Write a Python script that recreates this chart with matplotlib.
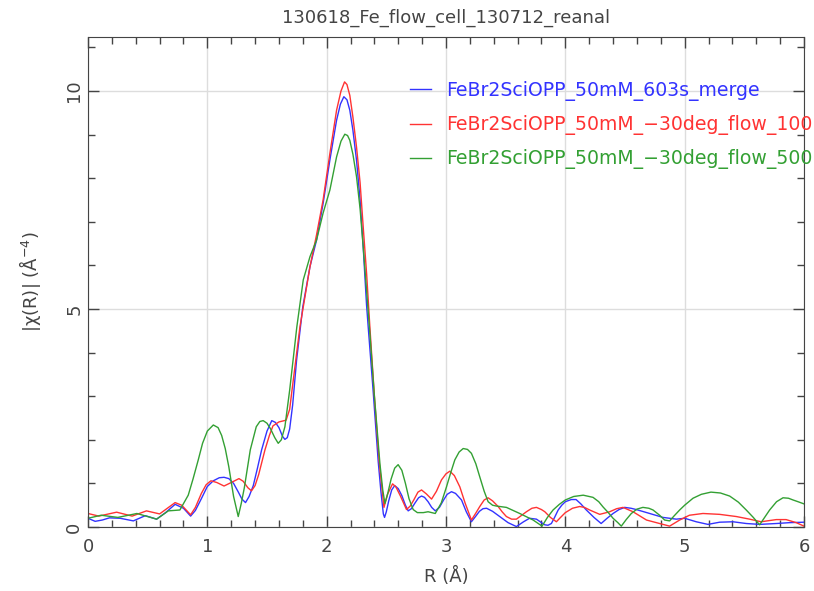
import matplotlib
matplotlib.use("Agg")
import matplotlib.pyplot as plt
from matplotlib.ticker import MultipleLocator

title = "130618_Fe_flow_cell_130712_reanal"
labels = ["FeBr2SciOPP_50mM_603s_merge",
          "FeBr2SciOPP_50mM_\u221230deg_flow_100",
          "FeBr2SciOPP_50mM_\u221230deg_flow_500"]

r_blue = [0.00, 0.06, 0.12, 0.18, 0.27, 0.38, 0.48, 0.575, 0.65, 0.73, 0.80, 0.86,
          0.90, 0.95, 1.00, 1.05, 1.10, 1.14, 1.18, 1.22, 1.26, 1.29, 1.32, 1.35,
          1.385, 1.42, 1.455, 1.50, 1.54, 1.57, 1.60, 1.63, 1.65, 1.67, 1.69, 1.715,
          1.748, 1.80, 1.86, 1.915, 1.97, 2.027, 2.083, 2.115, 2.144, 2.17, 2.194,
          2.22, 2.25, 2.28, 2.306, 2.334, 2.348, 2.39, 2.432, 2.455, 2.475, 2.485,
          2.50, 2.52, 2.545, 2.57, 2.60, 2.63, 2.66, 2.683, 2.71, 2.74, 2.77, 2.795,
          2.82, 2.85, 2.88, 2.91, 2.945, 2.98, 3.01, 3.046, 3.08, 3.13, 3.17, 3.213,
          3.25, 3.28, 3.31, 3.34, 3.39, 3.45, 3.52, 3.59, 3.65, 3.70, 3.758, 3.80,
          3.828, 3.855, 3.883, 3.91, 3.94, 3.97, 4.0, 4.05, 4.09, 4.13, 4.176, 4.24,
          4.30, 4.35, 4.40, 4.45, 4.497, 4.55, 4.595, 4.707, 4.818, 4.93, 5.0,
          5.097, 5.195, 5.293, 5.405, 5.516, 5.628, 5.768, 5.88, 6.0]
v_blue = [0.20, 0.13, 0.16, 0.21, 0.20, 0.14, 0.26, 0.18, 0.33, 0.52, 0.43, 0.25,
          0.38, 0.65, 0.93, 1.06, 1.13, 1.14, 1.11, 1.00, 0.80, 0.64, 0.56, 0.70,
          0.95, 1.35, 1.77, 2.20, 2.44, 2.40, 2.28, 2.08, 2.01, 2.05, 2.25, 2.80,
          3.83, 5.05, 5.97, 6.58, 7.42, 8.42, 9.33, 9.70, 9.87, 9.80, 9.56,
          9.10, 8.42, 7.50, 6.43, 5.10, 4.59, 3.10, 1.50, 0.80, 0.30, 0.22,
          0.35, 0.60, 0.85, 0.95, 0.88, 0.72, 0.50, 0.37, 0.42, 0.55, 0.67, 0.71,
          0.68, 0.58, 0.45, 0.37, 0.45, 0.62, 0.75, 0.81, 0.77, 0.62, 0.35, 0.12,
          0.25, 0.36, 0.42, 0.43, 0.36, 0.24, 0.10, 0.01, 0.12, 0.20, 0.18, 0.10,
          0.05, 0.04, 0.08, 0.22, 0.39, 0.50, 0.58, 0.63, 0.63, 0.53, 0.39, 0.22,
          0.08, 0.20, 0.31, 0.40, 0.45, 0.43, 0.40, 0.31, 0.22, 0.18, 0.20,
          0.12, 0.06, 0.11, 0.12, 0.08, 0.06, 0.08, 0.10, 0.11]

r_red = [0.00, 0.09, 0.24, 0.37, 0.49, 0.60, 0.73, 0.785, 0.86, 0.90, 0.95, 0.99,
         1.03, 1.08, 1.14, 1.20, 1.265, 1.30, 1.34, 1.37, 1.40, 1.43, 1.483, 1.52,
         1.55, 1.60, 1.66, 1.69, 1.706, 1.776, 1.86, 1.915, 1.97, 2.027, 2.083,
         2.12, 2.15, 2.17, 2.194, 2.22, 2.25, 2.28, 2.306, 2.335, 2.362, 2.40,
         2.44, 2.48, 2.51, 2.552, 2.58, 2.62, 2.669, 2.70, 2.73, 2.765, 2.795,
         2.835, 2.879, 2.92, 2.962, 3.0, 3.032, 3.07, 3.116, 3.16, 3.213, 3.25,
         3.283, 3.32, 3.353, 3.39, 3.437, 3.47, 3.506, 3.55, 3.59, 3.63, 3.674,
         3.72, 3.758, 3.80, 3.828, 3.875, 3.925, 3.96, 4.0, 4.06, 4.12, 4.16,
         4.204, 4.288, 4.372, 4.43, 4.483, 4.567, 4.68, 4.79, 4.874, 4.958, 5.04,
         5.153, 5.293, 5.433, 5.544, 5.64, 5.768, 5.85, 5.935, 6.0]
v_red = [0.31, 0.25, 0.34, 0.25, 0.37, 0.30, 0.56, 0.50, 0.28, 0.45, 0.77, 0.97,
         1.06, 1.02, 0.94, 1.02, 1.11, 1.05, 0.90, 0.83, 0.95, 1.20, 1.77, 2.10,
         2.32, 2.41, 2.45, 2.70, 3.06, 4.59, 5.97, 6.70, 7.50, 8.57, 9.56,
         10.00, 10.21, 10.15, 9.90, 9.40, 8.72, 7.90, 6.89, 5.80, 4.59, 3.00,
         1.50, 0.45, 0.75, 0.99, 0.92, 0.70, 0.40, 0.48, 0.62, 0.80, 0.85,
         0.76, 0.64, 0.82, 1.08, 1.22, 1.28, 1.18, 0.92, 0.55, 0.16, 0.32,
         0.47, 0.62, 0.67, 0.60, 0.47, 0.35, 0.24, 0.18, 0.18, 0.26, 0.35,
         0.43, 0.45, 0.40, 0.35, 0.22, 0.12, 0.22, 0.33, 0.43, 0.47, 0.45,
         0.39, 0.29, 0.35, 0.42, 0.45, 0.35, 0.16, 0.08, 0.02, 0.16, 0.27,
         0.31, 0.29, 0.24, 0.18, 0.12, 0.17, 0.17, 0.10, 0.02]

r_green = [0.00, 0.11, 0.25, 0.41, 0.575, 0.673, 0.77, 0.84, 0.88, 0.924, 0.96,
           1.00, 1.05, 1.09, 1.12, 1.15, 1.18, 1.22, 1.259, 1.285, 1.31, 1.36,
           1.41, 1.44, 1.468, 1.50, 1.53, 1.565, 1.594, 1.62, 1.65, 1.69, 1.75,
           1.804, 1.86, 1.915, 1.97, 2.027, 2.083, 2.12, 2.152, 2.175, 2.194, 2.22,
           2.25, 2.28, 2.306, 2.335, 2.362, 2.40, 2.446, 2.47, 2.488, 2.51, 2.54,
           2.57, 2.599, 2.63, 2.66, 2.69, 2.725, 2.76, 2.81, 2.85, 2.88, 2.91,
           2.96, 3.004, 3.04, 3.074, 3.11, 3.144, 3.18, 3.213, 3.25, 3.283, 3.32,
           3.353, 3.39, 3.423, 3.506, 3.618, 3.73, 3.805, 3.85, 3.897, 3.95, 4.0,
           4.07, 4.15, 4.232, 4.28, 4.316, 4.36, 4.40, 4.44, 4.469, 4.51, 4.553,
           4.60, 4.65, 4.70, 4.735, 4.79, 4.832, 4.874, 4.91, 4.958, 5.0, 5.07,
           5.14, 5.22, 5.30, 5.377, 5.45, 5.516, 5.575, 5.628, 5.67, 5.712, 5.77,
           5.824, 5.87, 5.908, 5.95, 6.0]
v_green = [0.20, 0.27, 0.22, 0.31, 0.18, 0.37, 0.39, 0.73, 1.10, 1.54, 1.92,
           2.20, 2.34, 2.28, 2.10, 1.80, 1.38, 0.70, 0.24, 0.55, 0.90, 1.77,
           2.30, 2.42, 2.44, 2.38, 2.25, 2.05, 1.92, 2.00, 2.30, 3.14, 4.59,
           5.67, 6.20, 6.58, 7.20, 7.73, 8.49, 8.85, 9.01, 8.98, 8.87, 8.55,
           8.04, 7.30, 6.43, 5.40, 4.44, 3.00, 1.46, 0.85, 0.54, 0.75, 1.10,
           1.35, 1.43, 1.30, 1.00, 0.65, 0.40, 0.33, 0.33, 0.35, 0.33, 0.31,
           0.55, 0.92, 1.25, 1.54, 1.72, 1.80, 1.78, 1.69, 1.45, 1.15, 0.82,
           0.58, 0.50, 0.48, 0.45, 0.31, 0.16, 0.02, 0.22, 0.39, 0.52, 0.62,
           0.70, 0.73, 0.68, 0.58, 0.46, 0.33, 0.20, 0.10, 0.02, 0.17, 0.31,
           0.41, 0.45, 0.43, 0.39, 0.27, 0.16, 0.14, 0.25, 0.39, 0.50, 0.66,
           0.75, 0.80, 0.78, 0.71, 0.57, 0.39, 0.22, 0.05, 0.22, 0.39, 0.58,
           0.67, 0.66, 0.62, 0.58, 0.53]

colors = ["#3333ff", "#ff3333", "#33a033"]
txt = "#444444"

fig = plt.figure(figsize=(8.14, 5.91), dpi=100)
ax = fig.add_axes([88/814, 64/591, 716/814, 490/591])

for r, v, c, lab in zip([r_blue, r_red, r_green], [v_blue, v_red, v_green], colors, labels):
    ax.plot(r, v, color=c, lw=1.0, label=lab)

ax.set_xlim(0, 6)
ax.set_ylim(0, 11.24)
ax.xaxis.set_major_locator(MultipleLocator(1))
ax.xaxis.set_minor_locator(MultipleLocator(0.2))
ax.yaxis.set_major_locator(MultipleLocator(5))
ax.yaxis.set_minor_locator(MultipleLocator(1))
ax.grid(True, which="major", color="#dddddd", lw=1.0)
ax.set_axisbelow(True)
ax.tick_params(which="both", direction="in", top=True, right=True, colors="#444444",
               labelcolor=txt, labelsize=13)
ax.tick_params(which="major", length=8, width=1)
ax.tick_params(which="minor", length=5, width=1)
ax.tick_params(axis="x", pad=8)
for lbl in ax.get_yticklabels():
    lbl.set_rotation(90)
    lbl.set_va("center")
for s in ax.spines.values():
    s.set_color("#444444")

ax.set_title(title, color=txt, fontsize=13, pad=10)
ax.set_xlabel("R (\u00c5)", color=txt, fontsize=13, labelpad=8)
ax.set_ylabel("|\u03c7(R)| (\u00c5$^{-4}$)", color=txt, fontsize=13, labelpad=16)

leg = ax.legend(loc="upper left", bbox_to_anchor=((410-88)/716, (527-81)/490),
                frameon=False, fontsize=13.6, handlelength=1.1, handletextpad=0.8,
                labelspacing=0.75, borderpad=0, borderaxespad=0, labelcolor="linecolor")

fig.savefig("out.png", dpi=100)
